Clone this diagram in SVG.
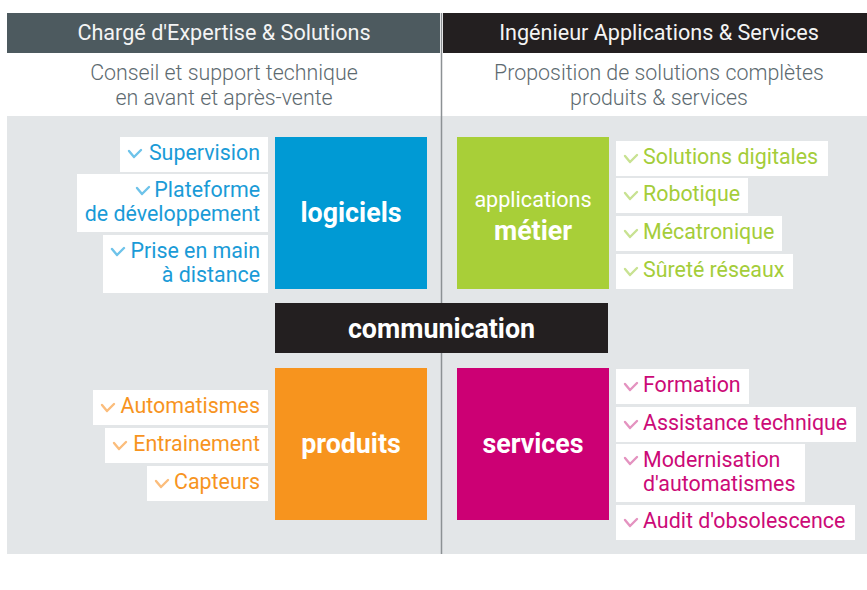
<svg xmlns="http://www.w3.org/2000/svg" width="867" height="590" viewBox="0 0 867 590">
<style>
text{font-family:Roboto,"Liberation Sans",sans-serif}
.hd{font-size:21.6px;fill:#f4f4f4;text-anchor:middle}
.sub{font-size:21.4px;font-weight:300;fill:#5d6a70;text-anchor:middle}
.big{font-size:26.8px;font-weight:bold;fill:#fff;text-anchor:middle}
.it{font-size:21.4px}
.card{fill:#fff}
.chk{fill:none;stroke-width:2.4;stroke-linecap:round;stroke-linejoin:round}
.b{fill:#1a9bd7}.bc{stroke:#6ec3ea}
.g{fill:#a4cd39}.gc{stroke:#c8e292}
.o{fill:#f7941e}.oc{stroke:#fbbd7c}
.m{fill:#cc0a77}.mc{stroke:#e493c0}
.end{text-anchor:end}
</style>
<rect x="0" y="0" width="867" height="590" fill="#fff"/>
<rect x="7" y="116" width="860" height="438" fill="#e3e6e8"/>
<g id="header-left">
<rect x="7" y="13" width="433" height="40" fill="#4d5a5f"/>
<text class="hd" x="224" y="40">Chargé d'Expertise &amp; Solutions</text>
<text class="sub" x="224" y="80">Conseil et support technique</text>
<text class="sub" x="224" y="105">en avant et après-vente</text>
</g>
<g id="header-right">
<rect x="443" y="13" width="424" height="40" fill="#231f20"/>
<text class="hd" x="659" y="40">Ingénieur Applications &amp; Services</text>
<text class="sub" x="659" y="80">Proposition de solutions complètes</text>
<text class="sub" x="659" y="105">produits &amp; services</text>
</g>
<g id="connectors">
<line x1="441.5" y1="13" x2="441.5" y2="554" stroke="#8c9194" stroke-width="1.5"/>
</g>
<g id="logiciels">
<rect x="275" y="137" width="152" height="152" fill="#009ad4"/>
<text class="big" x="351" y="222">logiciels</text>
</g>
<g id="applications-metier">
<rect x="457" y="137" width="152" height="152" fill="#a8cf38"/>
<text x="533" y="207" style="font-size:21.6px;fill:#fff;text-anchor:middle">applications</text>
<text class="big" x="533" y="240">métier</text>
</g>
<g id="communication">
<rect x="275" y="303" width="333" height="50" fill="#231f20"/>
<text class="big" x="441.5" y="338">communication</text>
</g>
<g id="produits">
<rect x="275" y="368" width="152" height="152" fill="#f7941e"/>
<text class="big" x="351" y="453">produits</text>
</g>
<g id="services">
<rect x="457" y="368" width="152" height="152" fill="#cc0074"/>
<text class="big" x="533" y="453">services</text>
</g>
<g id="item-supervision">
<rect class="card" x="120" y="137" width="148" height="35"/>
<polyline class="chk bc" points="129,151 134,157 141,150"/>
<text class="it b end" x="260" y="160">Supervision</text>
</g>
<g id="item-plateforme">
<rect class="card" x="77" y="174" width="191" height="58"/>
<polyline class="chk bc" points="137,188 142,194 149,187"/>
<text class="it b end" x="260" y="197">Plateforme</text>
<text class="it b end" x="260" y="221">de développement</text>
</g>
<g id="item-prise">
<rect class="card" x="103" y="235" width="165" height="58"/>
<polyline class="chk bc" points="112,249 117,255 124,248"/>
<text class="it b end" x="260" y="258">Prise en main</text>
<text class="it b end" x="260" y="282">à distance</text>
</g>
<g id="item-solutions">
<rect class="card" x="616" y="141" width="212" height="35"/>
<polyline class="chk gc" points="625,156 630,162 637,155"/>
<text class="it g" x="643" y="164">Solutions digitales</text>
</g>
<g id="item-robotique">
<rect class="card" x="616" y="178" width="132" height="35"/>
<polyline class="chk gc" points="625,193 630,199 637,192"/>
<text class="it g" x="643" y="201">Robotique</text>
</g>
<g id="item-mecatronique">
<rect class="card" x="616" y="216" width="166" height="35"/>
<polyline class="chk gc" points="625,231 630,237 637,230"/>
<text class="it g" x="643" y="239">Mécatronique</text>
</g>
<g id="item-surete">
<rect class="card" x="616" y="254" width="177" height="35"/>
<polyline class="chk gc" points="625,269 630,275 637,268"/>
<text class="it g" x="643" y="277">Sûreté réseaux</text>
</g>
<g id="item-automatismes">
<rect class="card" x="93" y="390" width="175" height="35"/>
<polyline class="chk oc" points="102,405 107,411 114,404"/>
<text class="it o end" x="260" y="413">Automatismes</text>
</g>
<g id="item-entrainement">
<rect class="card" x="105" y="428" width="163" height="35"/>
<polyline class="chk oc" points="114,443 119,449 126,442"/>
<text class="it o end" x="260" y="451">Entrainement</text>
</g>
<g id="item-capteurs">
<rect class="card" x="147" y="466" width="121" height="35"/>
<polyline class="chk oc" points="156,481 161,487 168,480"/>
<text class="it o end" x="260" y="489">Capteurs</text>
</g>
<g id="item-formation">
<rect class="card" x="616" y="369" width="133" height="35"/>
<polyline class="chk mc" points="625,384 630,390 637,383"/>
<text class="it m" x="643" y="392">Formation</text>
</g>
<g id="item-assistance">
<rect class="card" x="616" y="407" width="240" height="35"/>
<polyline class="chk mc" points="625,422 630,428 637,421"/>
<text class="it m" x="643" y="430">Assistance technique</text>
</g>
<g id="item-modernisation">
<rect class="card" x="616" y="444" width="189" height="58"/>
<polyline class="chk mc" points="625,458 630,464 637,457"/>
<text class="it m" x="643" y="467">Modernisation</text>
<text class="it m" x="643" y="491">d'automatismes</text>
</g>
<g id="item-audit">
<rect class="card" x="616" y="505" width="239" height="35"/>
<polyline class="chk mc" points="625,520 630,526 637,519"/>
<text class="it m" x="643" y="528">Audit d'obsolescence</text>
</g>
</svg>
